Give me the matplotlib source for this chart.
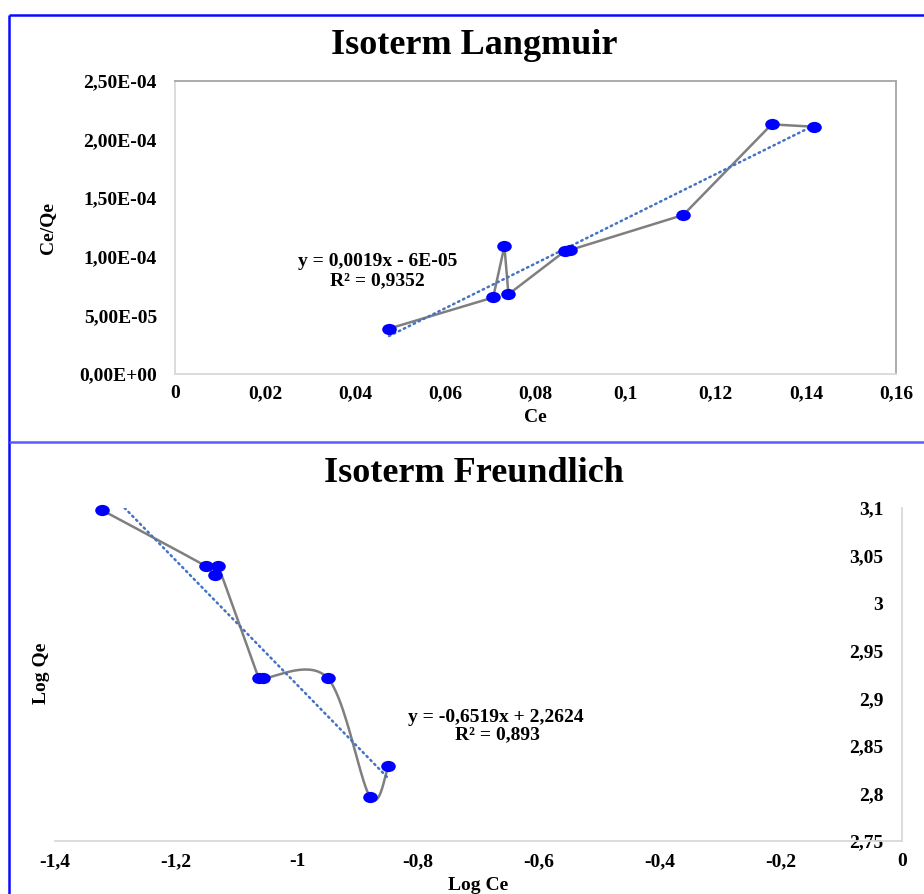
import numpy as np
import matplotlib
matplotlib.use('Agg')
import matplotlib.pyplot as plt
from matplotlib.path import Path
from matplotlib.transforms import Affine2D
from matplotlib.lines import Line2D

# ---------------- data ----------------
lang_ce = [0.0475, 0.0706, 0.0731, 0.0740, 0.0865, 0.0876, 0.1128, 0.1324, 0.1417]
lang_ceqe = [3.87e-5, 6.53e-5, 1.09e-4, 6.80e-5, 1.048e-4, 1.057e-4, 1.357e-4, 2.13e-4, 2.11e-4]
lang_xticks = [0, 0.02, 0.04, 0.06, 0.08, 0.10, 0.12, 0.14, 0.16]
lang_xticklabels = ['0', '0,02', '0,04', '0,06', '0,08', '0,1', '0,12', '0,14', '0,16']
lang_yticks = [0, 5e-5, 1e-4, 1.5e-4, 2e-4, 2.5e-4]
lang_yticklabels = ['0,00E+00', '5,00E-05', '1,00E-04', '1,50E-04', '2,00E-04', '2,50E-04']
lang_eq = 'y = 0,0019x - 6E-05'
lang_r2 = 'R² = 0,9352'

fr_logce = [-1.323, -1.151, -1.1355, -1.1306, -1.063, -1.056, -0.949, -0.879, -0.849]
fr_logqe = [3.098, 3.039, 3.030, 3.039, 2.921, 2.921, 2.921, 2.796, 2.829]
fr_coef = [-0.6519, 2.2624]
fr_xticks = [-1.4, -1.2, -1.0, -0.8, -0.6, -0.4, -0.2, 0.0]
fr_xticklabels = ['-1,4', '-1,2', '-1', '-0,8', '-0,6', '-0,4', '-0,2', '0']
fr_yticks = [2.75, 2.80, 2.85, 2.90, 2.95, 3.00, 3.05, 3.10]
fr_yticklabels = ['2,75', '2,8', '2,85', '2,9', '2,95', '3', '3,05', '3,1']
fr_eq = 'y = -0,6519x + 2,2624'
fr_r2 = 'R² = 0,893'

# ---------------- style ----------------
FONT = 'Liberation Serif'
TS = 14
BLUE_MK = '#0000FF'
LINE_GRAY = '#7f7f7f'
TREND = '#4472C4'

ellipse = Path(Affine2D().scale(1.3, 1.0).transform(Path.unit_circle().vertices),
               Path.unit_circle().codes)


def smooth_display(ax, x, y, n=40, k=0.5):
    """Bezier smoothing (Excel-like) computed in display space."""
    P = ax.transData.transform(np.column_stack([x, y]).astype(float))
    out = []
    for i in range(len(P) - 1):
        p0 = P[i - 1] if i > 0 else P[i]
        p1, p2 = P[i], P[i + 1]
        p3 = P[i + 2] if i + 2 < len(P) else P[i + 1]
        L = np.hypot(*(p2 - p1))
        a1 = (p2 - p0) / 6.0
        a2 = (p3 - p1) / 6.0
        n1, n2 = np.hypot(*a1), np.hypot(*a2)
        if n1 > k * L and n1 > 0:
            a1 = a1 * (k * L / n1)
        if n2 > k * L and n2 > 0:
            a2 = a2 * (k * L / n2)
        c1 = p1 + a1
        c2 = p2 - a2
        t = np.linspace(0, 1, n)[:, None]
        seg = (1 - t) ** 3 * p1 + 3 * (1 - t) ** 2 * t * c1 + 3 * (1 - t) * t ** 2 * c2 + t ** 3 * p2
        out.append(seg if i == 0 else seg[1:])
    return ax.transData.inverted().transform(np.vstack(out))


fig = plt.figure(figsize=(9.24, 8.94), dpi=100)
W, H = 924.0, 894.0


def fx(px):
    return px / W


def fy(py):
    return 1 - py / H

# figure borders
for (x0, y0, x1, y1, c) in [(9, 15, 924, 15, '#0a0aff'), (9, 15, 9, 894, '#0a0aff'),
                            (9, 442, 924, 442, '#5a5aff')]:
    fig.add_artist(Line2D([fx(x0), fx(x1)], [fy(y0), fy(y1)], transform=fig.transFigure,
                          color=c, lw=1.8, solid_capstyle='butt'))

# ---------------- Langmuir ----------------
ax1 = fig.add_axes([fx(175), fy(374), fx(896) - fx(175), fy(81) - fy(374)])
ax1.plot(lang_ce, lang_ceqe, color=LINE_GRAY, lw=1.8, zorder=2)
ax1.plot(lang_ce, lang_ceqe, linestyle='none', marker=ellipse, markersize=10.5,
         color=BLUE_MK, markeredgewidth=0, zorder=4)
c1 = np.polyfit(lang_ce, lang_ceqe, 1)
xs = np.array([min(lang_ce), max(lang_ce)])
ax1.plot(xs, np.polyval(c1, xs), color=TREND, lw=1.8, linestyle=(0, (0.6, 1.6)),
         dash_capstyle='round', zorder=3)
ax1.set_xlim(0, 0.16)
ax1.set_ylim(0, 2.5e-4)
ax1.set_xticks(lang_xticks, lang_xticklabels)
ax1.set_yticks(lang_yticks, lang_yticklabels)
ax1.tick_params(axis='x', length=0, pad=8)
ax1.tick_params(axis='y', length=0, pad=13)
for lab in ax1.get_xticklabels() + ax1.get_yticklabels():
    lab.set_fontfamily(FONT)
    lab.set_fontweight('bold')
    lab.set_fontsize(TS)
ax1.spines['top'].set_color('#a6a6a6')
ax1.spines['right'].set_color('#a6a6a6')
ax1.spines['left'].set_color('#d9d9d9')
ax1.spines['bottom'].set_color('#d9d9d9')
for s in ax1.spines.values():
    s.set_linewidth(1.3)
ax1.set_xlabel('Ce', fontfamily=FONT, fontweight='bold', fontsize=TS)
ax1.xaxis.set_label_coords((535 - 175) / 721, (374 - 417) / 293)
ax1.xaxis.label.set_va('center')
ax1.set_ylabel('Ce/Qe', fontfamily=FONT, fontweight='bold', fontsize=TS)
ax1.yaxis.set_label_coords((48 - 175) / 721, (374 - 228) / 293)
ax1.yaxis.label.set_va('center')
ax1.text((378 - 175) / 721, (374 - 262) / 293, lang_eq, transform=ax1.transAxes,
         ha='center', va='center', fontfamily=FONT, fontweight='bold', fontsize=TS)
ax1.text((377 - 175) / 721, (374 - 281) / 293, lang_r2, transform=ax1.transAxes,
         ha='center', va='center', fontfamily=FONT, fontweight='bold', fontsize=TS)
fig.text(fx(474), fy(45), 'Isoterm Langmuir', ha='center', va='center',
         fontfamily=FONT, fontweight='bold', fontsize=26)

# ---------------- Freundlich ----------------
ax2 = fig.add_axes([fx(55), fy(841), fx(902) - fx(55), fy(508) - fy(841)])
ax2.set_xlim(-1.4, 0)
ax2.set_ylim(2.75, 3.1)
curve = smooth_display(ax2, fr_logce, fr_logqe)
ax2.plot(curve[:, 0], curve[:, 1], color=LINE_GRAY, lw=1.8, zorder=2)
ax2.plot(fr_logce, fr_logqe, linestyle='none', marker=ellipse, markersize=10.5,
         color=BLUE_MK, markeredgewidth=0, zorder=4, clip_on=False)
xs2 = np.array([min(fr_logce), max(fr_logce)])
ax2.plot(xs2, np.polyval(fr_coef, xs2), color=TREND, lw=1.8, linestyle=(0, (0.6, 1.6)),
         dash_capstyle='round', zorder=3)
ax2.set_xticks(fr_xticks, fr_xticklabels)
ax2.yaxis.tick_right()
ax2.set_yticks(fr_yticks, fr_yticklabels)
ax2.tick_params(axis='x', length=0, pad=9)
ax2.tick_params(axis='y', length=0, pad=-13.5)
for lab in ax2.get_yticklabels():
    lab.set_horizontalalignment('right')
for lab in ax2.get_xticklabels() + ax2.get_yticklabels():
    lab.set_fontfamily(FONT)
    lab.set_fontweight('bold')
    lab.set_fontsize(TS)
ax2.spines['top'].set_visible(False)
ax2.spines['left'].set_visible(False)
ax2.spines['right'].set_color('#d9d9d9')
ax2.spines['bottom'].set_color('#d9d9d9')
ax2.spines['right'].set_linewidth(1.3)
ax2.spines['bottom'].set_linewidth(1.3)
ax2.set_xlabel('Log Ce', fontfamily=FONT, fontweight='bold', fontsize=TS)
ax2.xaxis.set_label_coords((478 - 55) / 847, (841 - 885) / 333)
ax2.xaxis.label.set_va('center')
ax2.yaxis.set_label_position('left')
ax2.set_ylabel('Log Qe', fontfamily=FONT, fontweight='bold', fontsize=TS)
ax2.yaxis.set_label_coords((41 - 55) / 847, (841 - 673) / 333)
ax2.yaxis.label.set_va('center')
ax2.text((496 - 55) / 847, (841 - 717) / 333, fr_eq, transform=ax2.transAxes,
         ha='center', va='center', fontfamily=FONT, fontweight='bold', fontsize=TS)
ax2.text((497 - 55) / 847, (841 - 735) / 333, fr_r2, transform=ax2.transAxes,
         ha='center', va='center', fontfamily=FONT, fontweight='bold', fontsize=TS)
fig.text(fx(474), fy(473), 'Isoterm Freundlich', ha='center', va='center',
         fontfamily=FONT, fontweight='bold', fontsize=26)

fig.savefig('out.png', dpi=100)
